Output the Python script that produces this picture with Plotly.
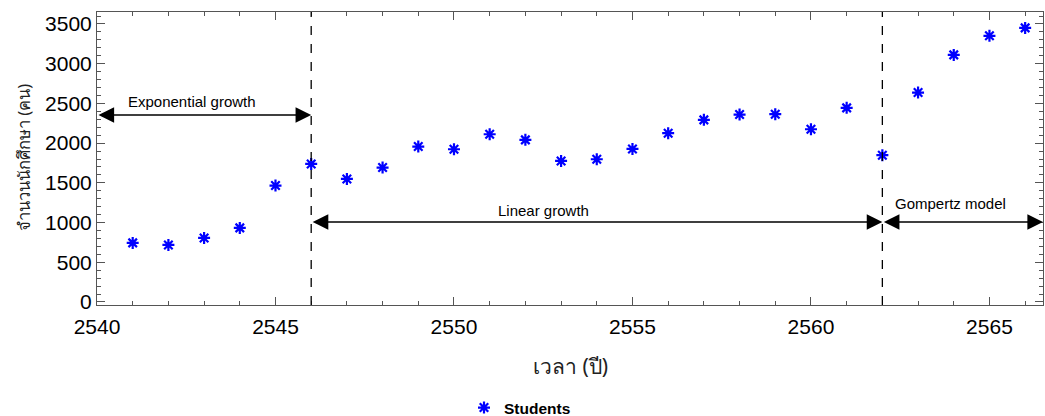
import plotly.graph_objects as go

years = list(range(2541, 2567))
students = [744, 718, 806, 933, 1466, 1738, 1549, 1692, 1957, 1923, 2112, 2041,
            1776, 1797, 1927, 2125, 2293, 2360, 2364, 2175, 2444, 1848, 2637,
            3111, 3351, 3451]

phase_bounds = [2546, 2562]
phase_labels = ["Exponential growth", "Linear growth", "Gompertz model"]
phase_spans = [(2540, 2546), (2546, 2562), (2562, 2566.5)]
arrow_levels = [2354, 1007, 1007]
label_pos = [(2542.65, 2530), (2552.5, 1158), (2563.9, 1246)]

x_range = [2540, 2566.5]
y_range = [-38, 3651]

FONT = "Liberation Sans, Arial, sans-serif"
FRAME = "#555555"

L, R, T, B, W, H = 97, 2, 12, 111, 1045, 416
PW, PH = W - L - R, H - T - B

fig = go.Figure()
fig.add_trace(go.Scatter(
    x=years, y=students, mode="markers", name="<b>Students</b>",
    marker=dict(symbol="asterisk-open", size=10, color="blue",
                line=dict(color="blue", width=2.2)),
))

shapes = []
for b in phase_bounds:
    shapes.append(dict(type="line", xref="x", yref="paper", x0=b, x1=b, y0=0, y1=1,
                       line=dict(color="black", width=1.3, dash="dash")))

annotations = []
for (x0, x1), lvl in zip(phase_spans, arrow_levels):
    annotations.append(dict(x=x1, y=lvl, ax=x0, ay=lvl, xref="x", yref="y",
                            axref="x", ayref="y", text="", showarrow=True,
                            arrowhead=2, startarrowhead=2, arrowside="end+start",
                            arrowsize=2.4, startarrowsize=2.4, arrowwidth=1.3,
                            arrowcolor="black"))
for txt, (lx, ly) in zip(phase_labels, label_pos):
    annotations.append(dict(x=lx, y=ly, xref="x", yref="y", text=txt, showarrow=False,
                            font=dict(family=FONT, size=15, color="black")))

annotations.append(dict(x=0.5, y=(T + PH - 366) / PH, xref="paper", yref="paper",
                        text="เวลา (ปี)", showarrow=False, yanchor="middle",
                        font=dict(family="Noto Sans, " + FONT, size=21, color="#222")))
annotations.append(dict(x=(23 - L) / PW, y=(T + PH - 158) / PH, xref="paper", yref="paper",
                        text="จำนวนนักศึกษา (คน)", showarrow=False, textangle=-90,
                        xanchor="center", yanchor="middle",
                        font=dict(family="Noto Sans, " + FONT, size=16.5, color="#222")))

fig.update_layout(
    width=W, height=H,
    margin=dict(l=L, r=R, t=T, b=B, autoexpand=False),
    plot_bgcolor="white", paper_bgcolor="white",
    shapes=shapes, annotations=annotations,
    font=dict(family=FONT, color="black"),
    showlegend=True,
    legend=dict(orientation="h", x=(464 - L) / PW, xanchor="left",
                y=(T + PH - 408) / PH, yanchor="middle",
                font=dict(family=FONT, size=15.5, color="black")),
    xaxis=dict(range=x_range, tick0=2540, dtick=5, ticks="inside", ticklen=8,
               tickcolor=FRAME, showline=True, linecolor=FRAME, linewidth=1,
               mirror="ticks", showgrid=False, zeroline=False, ticklabelstandoff=3,
               tickfont=dict(family=FONT, size=21, color="black"),
               minor=dict(dtick=1, ticks="inside", ticklen=4, tickcolor=FRAME)),
    yaxis=dict(range=y_range, tick0=0, dtick=500, ticks="inside", ticklen=8,
               tickcolor=FRAME, showline=True, linecolor=FRAME, linewidth=1,
               mirror="ticks", showgrid=False, zeroline=False,
               tickfont=dict(family=FONT, size=21, color="black"),
               minor=dict(dtick=100, ticks="inside", ticklen=4, tickcolor=FRAME)),
)

fig.write_html("out.html")
